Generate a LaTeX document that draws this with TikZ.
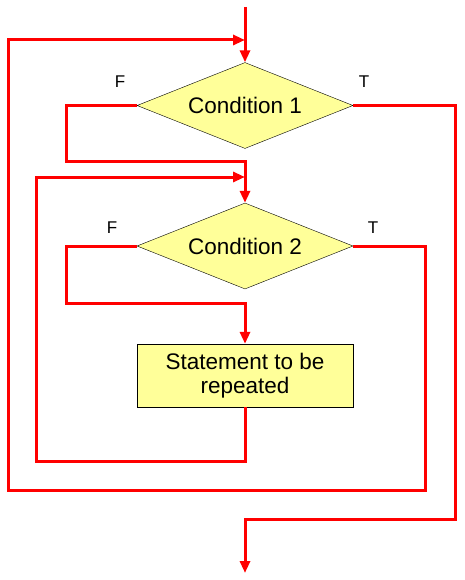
\documentclass[tikz,border=0pt]{standalone}
\usepackage{fontspec}
\setmainfont{Liberation Sans}
\usepackage{tikz}
\usetikzlibrary{shapes.geometric}
\usetikzlibrary{arrows.meta}
\usetikzlibrary{positioning}
\definecolor{flowred}{RGB}{255,0,0}
\definecolor{boxyellow}{RGB}{255,255,153}

\begin{document}
\begin{tikzpicture}
    [
    x=1pt,y=-1pt,
    cond/.style={diamond,aspect=2.51,draw,thin,fill=boxyellow,inner sep=0pt,minimum width=216pt,minimum height=86pt,font=\fontsize{22.5}{24}\selectfont},
    stmt/.style={rectangle,draw,thin,fill=boxyellow,inner sep=0pt,minimum width=216pt,minimum height=63pt,align=center,font=\fontsize{22.5}{23.5}\selectfont},
    flow/.style={draw=flowred,line width=3pt,-{Triangle[width=10pt,length=12pt]}},
    tf/.style={font=\fontsize{17}{19}\selectfont},
    ]
    \useasboundingbox (0,0) rectangle (464,580);

    \node (c1) at (245,105.5) [cond] {Condition 1};
    \node (c2) at (245,246) [cond] {Condition 2};
    \node (body) at (245,375.5) [stmt] {Statement to be\\repeated};

    \coordinate (in) at (245,7);
    \coordinate (out) at (245,573);
    \coordinate (j1) at (245,40);
    \coordinate (j2) at (245,177);

    \node (f1) at (120,82) [tf] {F};
    \node (t1) at (364,82) [tf] {T};
    \node (f2) at (112,228) [tf] {F};
    \node (t2) at (373,228) [tf] {T};

    \draw [flow] (in) to (c1.north);
    \draw [flow] (c1.west) -| (66,162) -| (c2.north);
    \draw [flow] (c2.west) -| (66,303) -| (body.north);
    \draw [flow] (body.south) |- (36,461) |- (j2);
    \draw [flow] (c2.east) -| (425,490) -| (8,40) -- (j1);
    \draw [flow] (c1.east) -| (455,519) -| (out);
  \end{tikzpicture}
\end{document}
